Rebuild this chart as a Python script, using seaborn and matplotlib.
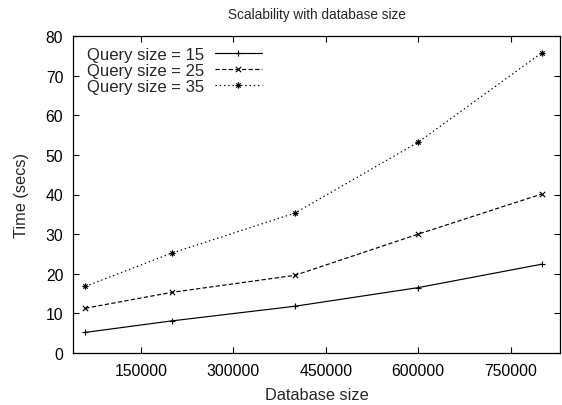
import matplotlib
matplotlib.use("Agg")
import matplotlib.pyplot as plt
from matplotlib.path import Path
import seaborn as sns
import pandas as pd

db_sizes = [60000, 200000, 400000, 600000, 800000]
q15 = [5.2, 8.1, 11.8, 16.5, 22.4]
q25 = [11.3, 15.3, 19.6, 30.0, 40.1]
q35 = [16.8, 25.2, 35.3, 53.2, 75.7]
series_labels = ["Query size = 15", "Query size = 25", "Query size = 35"]
x_ticks = [150000, 300000, 450000, 600000, 750000]
y_ticks = [0, 10, 20, 30, 40, 50, 60, 70, 80]

sns.set_theme(style="ticks")
plt.rcParams['font.family'] = ['Liberation Sans', 'DejaVu Sans']

df = pd.DataFrame({
    "Database size": db_sizes * 3,
    "Time (secs)": q15 + q25 + q35,
    "series": [series_labels[0]] * 5 + [series_labels[1]] * 5 + [series_labels[2]] * 5,
})

# gnuplot-like asterisk marker: + and x combined
star_path = Path(
    [(-1, 0), (1, 0), (0, -1), (0, 1), (-0.7, -0.7), (0.7, 0.7), (-0.7, 0.7), (0.7, -0.7)],
    [Path.MOVETO, Path.LINETO] * 4,
)
plus_path = Path([(-1, 0), (1, 0), (0, -1), (0, 1)], [Path.MOVETO, Path.LINETO] * 2)
x_path = Path([(-1, -1), (1, 1), (-1, 1), (1, -1)], [Path.MOVETO, Path.LINETO] * 2)

styles = {
    series_labels[0]: dict(marker=plus_path, linestyle="-", ms=5),
    series_labels[1]: dict(marker=x_path, linestyle=(0, (3.6, 2.0)), ms=3.8),
    series_labels[2]: dict(marker=star_path, linestyle=(0, (1.2, 2.4)), ms=4.5),
}

fig = plt.figure(figsize=(5.62, 4.06), dpi=100)
ax = fig.add_axes([73 / 562, 1 - 354 / 406, (560 - 73) / 562, (354 - 37) / 406])

for lab in series_labels:
    sub = df[df["series"] == lab]
    st = styles[lab]
    sns.lineplot(data=sub, x="Database size", y="Time (secs)", ax=ax,
                 color="black", lw=0.85, marker=st["marker"], ms=st["ms"],
                 mew=0.85, mfc="none", mec="black",
                 linestyle=st["linestyle"], label=lab)

ax.set_xlim(40000, 830000)
ax.set_ylim(0, 80)
ax.set_xticks(x_ticks)
ax.set_yticks(y_ticks)
ax.set_xticklabels([str(v) for v in x_ticks])
ax.tick_params(direction="in", length=4, width=0.8, top=True, right=True,
               labelsize=11.3, colors="black", pad=7)
for s in ax.spines.values():
    s.set_linewidth(0.9)
    s.set_color("black")

ax.set_xlabel("Database size", fontsize=11.8, labelpad=7)
ax.set_ylabel("Time (secs)", fontsize=11.8, labelpad=12)
ax.set_title("Scalability with database size", fontsize=9.8, pad=13)

leg = ax.legend(loc="upper left", bbox_to_anchor=(87 / 562, 1 - 48 / 406),
                bbox_transform=fig.transFigure, frameon=False, fontsize=12,
                markerfirst=False, handlelength=2.8, handletextpad=0.65,
                labelspacing=0.05, borderpad=0, borderaxespad=0, numpoints=1)

fig.savefig("out.png", dpi=100)
